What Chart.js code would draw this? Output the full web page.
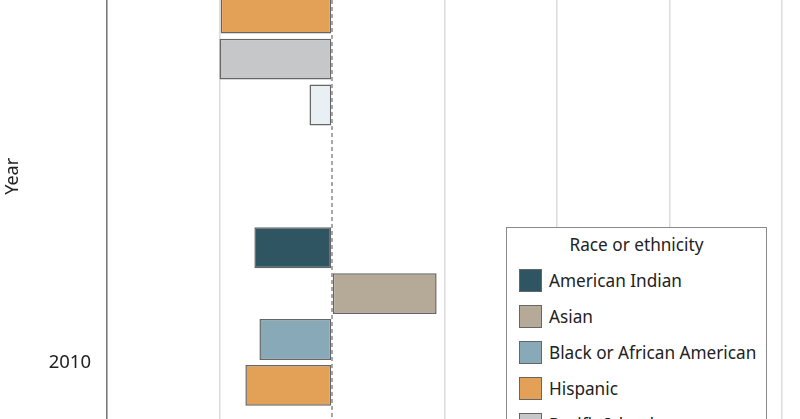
<!DOCTYPE html>
<html>
<head>
<meta charset="utf-8">
<script src="https://cdn.jsdelivr.net/npm/chart.js@4.4.1/dist/chart.umd.min.js"></script>
<style>
    html, body { margin: 0; padding: 0; background: #fff; }
    #quadro { position: relative; width: 800px; height: 419px; overflow: hidden; }
    #caixa-grafico { position: absolute; left: 0; top: -215px; width: 800px; height: 800px; }
    #legenda {
        position: absolute; left: 506px; top: 227px; width: 259px; height: 260px;
        border: 1.5px solid #8a8a8a; background: #fff;
        font-family: 'Noto Sans', sans-serif; font-size: 17.2px; color: #222;
    }
    #legenda .titulo { text-align: center; margin-top: 6px; height: 28px; line-height: 22px; }
    #legenda .item { display: flex; align-items: center; height: 36px; padding-left: 12px; }
    #legenda .cor { width: 23px; height: 23px; border: 1.5px solid #666; margin-right: 7px; box-sizing: border-box; }
</style>
</head>
<body>
<div id="quadro">
    <div id="caixa-grafico"><canvas id="grafico-raca"></canvas></div>
    <div id="legenda"></div>
</div>
<script>
// Dados do gráfico
var anos = ['2015', '2010'];
var grupos = ['American Indian', 'Asian', 'Black or African American', 'Hispanic', 'Pacific Islander', 'White'];
var cores = ['#2f5563', '#b5aa98', '#87a9b8', '#e3a157', '#c6c7c9', '#e8f0f4'];
var valoresAmericanIndian = [-0.7, -0.69];
var valoresAsian = [0.9, 0.93];
var valoresBlack = [-0.65, -0.645];
var valoresHispanic = [-0.99, -0.77];
var valoresPacific = [-1.0, -0.01];
var valoresWhite = [-0.2, -0.2];
var ticksX = [-2, -1, 0, 1, 2, 3, 4];

var series = [valoresAmericanIndian, valoresAsian, valoresBlack, valoresHispanic, valoresPacific, valoresWhite];

// linha tracejada no zero (desenhada antes das barras)
var linhaZero = {
    id: 'linhaZero',
    beforeDatasetsDraw: function (chart) {
        var ctx = chart.ctx;
        var x = chart.scales.x.getPixelForValue(0);
        ctx.save();
        ctx.strokeStyle = '#8c8c8c';
        ctx.lineWidth = 1.5;
        ctx.setLineDash([4, 3]);
        ctx.beginPath();
        ctx.moveTo(x, chart.chartArea.top);
        ctx.lineTo(x, chart.chartArea.bottom);
        ctx.stroke();
        ctx.restore();
    }
};

// legenda em HTML montada a partir dos datasets
var legendaHtml = {
    id: 'legendaHtml',
    afterUpdate: function (chart) {
        var caixa = document.getElementById('legenda');
        caixa.innerHTML = '<div class="titulo">Race or ethnicity</div>';
        chart.data.datasets.forEach(function (ds) {
            var item = document.createElement('div');
            item.className = 'item';
            item.innerHTML = '<span class="cor" style="background:' + ds.backgroundColor + '"></span><span>' + ds.label + '</span>';
            caixa.appendChild(item);
        });
    }
};

var fonte = { family: 'Noto Sans', size: 17 };

var ctx = document.getElementById('grafico-raca').getContext('2d');
var graficoRaca = new Chart(ctx, {
    type: 'bar',
    data: {
        labels: anos,
        datasets: grupos.map(function (nome, i) {
            return {
                label: nome,
                data: series[i],
                backgroundColor: cores[i],
                borderColor: '#666666',
                borderWidth: 1.5,
                borderSkipped: false,
                barPercentage: 0.89,
                categoryPercentage: 0.74
            };
        })
    },
    options: {
        indexAxis: 'y',
        responsive: true,
        maintainAspectRatio: false,
        animation: false,
        layout: { padding: { top: 13, right: 18, bottom: 10, left: 0 } },
        plugins: {
            legend: { display: false },
            tooltip: { enabled: false }
        },
        scales: {
            x: {
                min: -2,
                max: 4,
                afterBuildTicks: function (scale) {
                    scale.ticks = ticksX.map(function (v) { return { value: v }; });
                },
                grid: {
                    color: function (c) { return c.tick && c.tick.value === 0 ? 'rgba(0,0,0,0)' : '#dcdcdc'; },
                    lineWidth: 1.5,
                    drawTicks: false
                },
                border: { display: false },
                ticks: { font: fonte, color: '#222' }
            },
            y: {
                afterFit: function (scale) { scale.width = 107; },
                grid: { display: false },
                border: { display: true, color: '#7a7a7a', width: 1.5 },
                ticks: { font: { family: 'Noto Sans', size: 18.5 }, color: '#222', padding: 8 },
                title: { display: true, text: 'Year', font: { family: 'Noto Sans', size: 18 }, color: '#222', padding: { top: 2, bottom: 4 } }
            }
        }
    },
    plugins: [linhaZero, legendaHtml]
});
</script>
</body>
</html>
